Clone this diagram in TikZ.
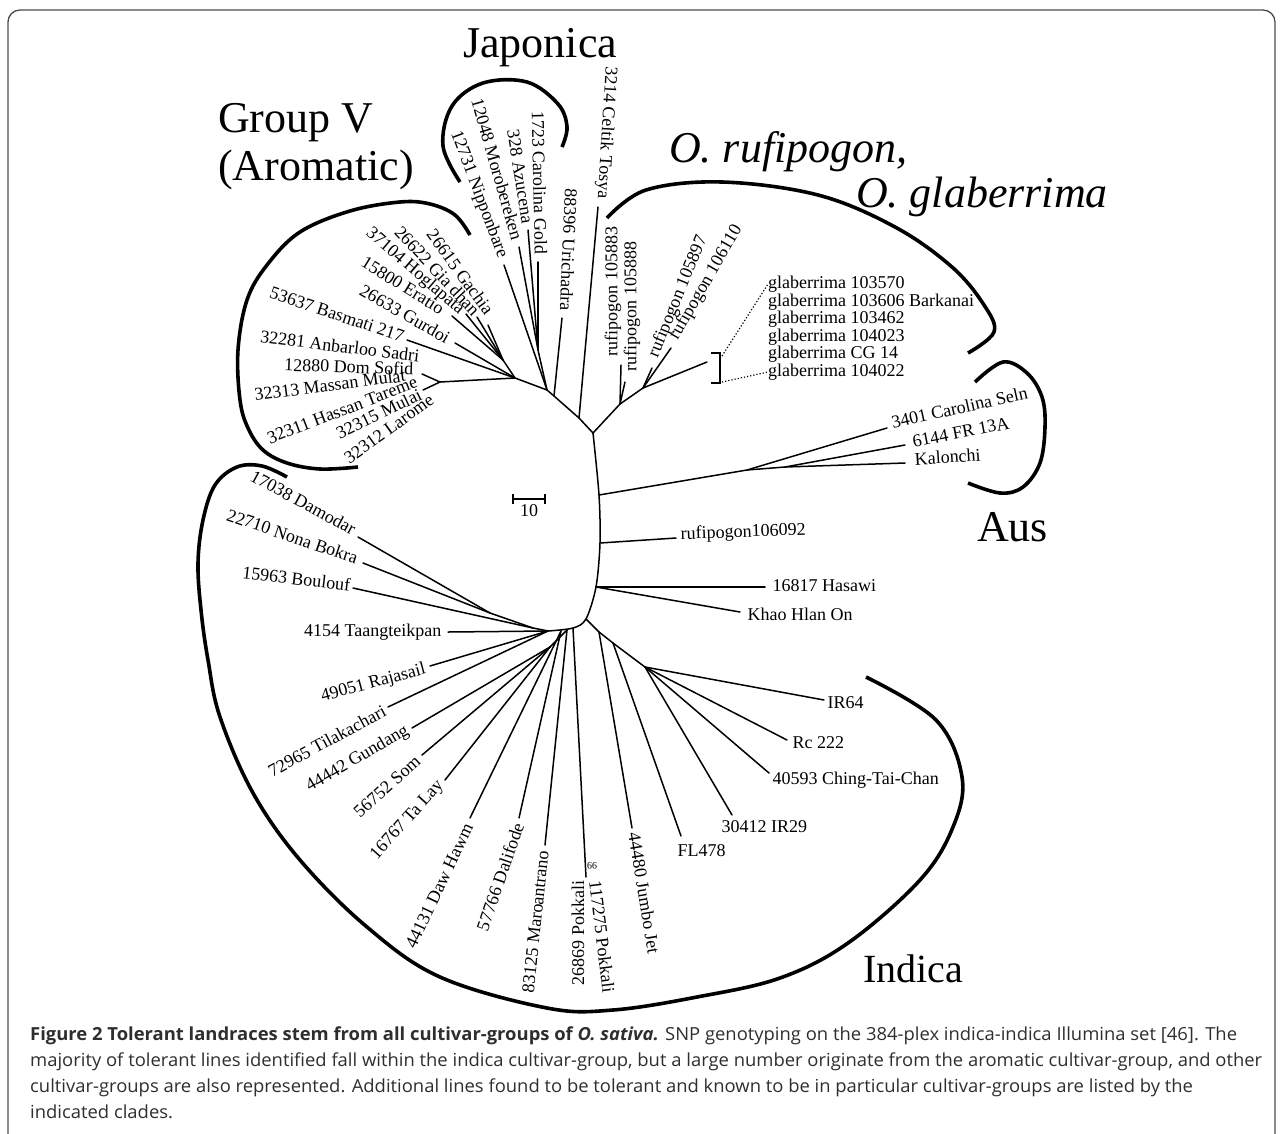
\documentclass[tikz,border=0pt]{standalone}
\usepackage{fontspec}
\setmainfont{Liberation Serif}
\newfontfamily\capfont{Open Sans}
\usepackage{graphicx}
\newlength\capw
\begin{document}
\settowidth\capw{\capfont\fontsize{18}{18}\selectfont majority of tolerant lines identified fall within the indica cultivar-group, but a large number originate from the aromatic cultivar-group, and other}%
\pgfmathsetmacro\capr{1232/\capw}%
\begin{tikzpicture}[x=1pt,y=-1pt,
  br/.style={line width=1.5pt, line cap=round, line join=round},
  brk/.style={line width=3.6pt, line cap=butt},
  lab/.style={font=\fontsize{18}{18}\selectfont, inner sep=1.5pt},
  glab/.style={font=\fontsize{18}{18}\selectfont, inner sep=0pt, anchor=west},
  big/.style={font=\fontsize{44}{44}\selectfont, inner sep=0pt, anchor=base west},
  capl/.style={anchor=base west, inner sep=0pt, text=black!82}]
\useasboundingbox (0,0) rectangle (1282,1133);
\draw[line width=1.3pt, black!70, rounded corners=12pt] (8,10) rectangle (1275,1150);
% ---------- internal coordinates ----------
\coordinate (J) at (593,433);
\coordinate (A1) at (599,495);
\coordinate (A2) at (600,543);
\coordinate (A3) at (596,587);
\coordinate (A4) at (586,619);
\coordinate (A5) at (573,628);
\coordinate (A5b) at (567,630);
\coordinate (A5c) at (561,631);
\coordinate (A6) at (548,631);
\coordinate (L2) at (550,647);
\coordinate (L3) at (490,613);
\coordinate (L4) at (533,628);
\coordinate (K1) at (747,470);
\coordinate (K2) at (785,467);
\coordinate (B1) at (599,632);
\coordinate (B2) at (613,643);
\coordinate (B3) at (645,667);
\coordinate (C1) at (579,418);
\coordinate (C2) at (554,396);
\coordinate (C3) at (547,390);
\coordinate (C4) at (515,378);
\coordinate (C5) at (440,382);
\coordinate (JS) at (538,350);
\coordinate (AR) at (503,360);
\coordinate (N2) at (620,404);
\coordinate (N3) at (643,388);
% ---------- leaf ends ----------
\coordinate (tCel) at (598,207);
\coordinate (tUri) at (562,318);
\coordinate (tNip) at (504,265);
\coordinate (tMor) at (519,247);
\coordinate (tAzu) at (528,230);
\coordinate (tCar) at (538,262);
\coordinate (tGac) at (488,325);
\coordinate (tGia) at (477,317);
\coordinate (tHog) at (466,314);
\coordinate (tEra) at (452,316);
\coordinate (tGur) at (455,343);
\coordinate (tBas) at (407,340);
\coordinate (tDom) at (422,374);
\coordinate (tMM) at (423,390);
\coordinate (tRA) at (621,365);
\coordinate (tRB) at (625,382);
\coordinate (tRC) at (652,368);
\coordinate (tRD) at (671,348);
\coordinate (tG1) at (707,362);
\coordinate (tT1) at (887,428);
\coordinate (tT2) at (905,445);
\coordinate (tT3) at (905,463);
\coordinate (tR6) at (676,538);
\coordinate (tH1) at (765,587);
\coordinate (tH2) at (740,612);
\coordinate (tJum) at (632,828);
\coordinate (tFL) at (681,836);
\coordinate (tIR29) at (732,815);
\coordinate (tChi) at (769,773);
\coordinate (tRc) at (787,740);
\coordinate (tIR64) at (824,700);
\coordinate (tPok) at (586,877);
\coordinate (tMar) at (545,845);
\coordinate (tDal) at (519,818);
\coordinate (tDaw) at (470,818);
\coordinate (tTaL) at (445,780);
\coordinate (tSom) at (422,755);
\coordinate (tGun) at (412,728);
\coordinate (tTil) at (388,707);
\coordinate (tRaj) at (430,666);
\coordinate (tTaa) at (448,632);
\coordinate (tBou) at (353,588);
\coordinate (tNon) at (363,563);
\coordinate (tDam) at (358,537);
% ---------- branches ----------
\draw[br] plot[smooth, tension=0.5] coordinates {(J) (A1) (A2) (A3) (A4) (A5) (A6)};
\draw[br] (J) -- (C1) -- (C2) -- (C3) -- (C4) -- (C5);
\draw[br] (J) -- (N2) -- (N3) -- (tG1);
\draw[br] (N2) -- (tRA); \draw[br] (N2) -- (tRB);
\draw[br] (N3) -- (tRC); \draw[br] (N3) -- (tRD);
\draw[br] (C1) -- (tCel);
\draw[br] (C2) -- (tUri);
\draw[br] (C3) -- (tNip);
\draw[br] (C3) -- (JS);
\draw[br] (JS) -- (tMor); \draw[br] (JS) -- (tAzu); \draw[br] (JS) -- (tCar);
\draw[br] (C4) -- (AR);
\draw[br] (AR) -- (tGac); \draw[br] (AR) -- (tGia); \draw[br] (AR) -- (tHog); \draw[br] (AR) -- (tEra);
\draw[br] (C4) -- (tGur); \draw[br] (C4) -- (tBas);
\draw[br] (C5) -- (tDom); \draw[br] (C5) -- (tMM);
\draw[br] (A1) -- (K1) -- (tT1);
\draw[br] (K1) -- (K2) -- (tT2); \draw[br] (K2) -- (tT3);
\draw[br] (A2) -- (tR6);
\draw[br] (A3) -- (tH1); \draw[br] (A3) -- (tH2);
\draw[br] (A4) -- (B1) -- (B2) -- (B3);
\draw[br] (B1) -- (tJum); \draw[br] (B2) -- (tFL);
\draw[br] (B3) -- (tIR29); \draw[br] (B3) -- (tChi); \draw[br] (B3) -- (tRc); \draw[br] (B3) -- (tIR64);
\draw[br] (A5) -- (tPok);
\draw[br] (A5b) -- (tMar);
\draw[br] (A5b) -- (L2);
\draw[br] (L2) -- (tTaL); \draw[br] (L2) -- (tSom); \draw[br] (L2) -- (tGun);
\draw[br] (A5c) -- (tDal); \draw[br] (A5c) -- (tDaw);
\draw[br] (A6) -- (tTil); \draw[br] (A6) -- (tRaj); \draw[br] (A6) -- (tTaa);
\draw[br] (A6) -- (L4) -- (L3);
\draw[br] (L4) -- (tBou);
\draw[br] (L3) -- (tNon); \draw[br] (L3) -- (tDam);
% ---------- glaberrima bracket ----------
\coordinate (gb1) at (711,353);
\coordinate (gb2) at (720,353);
\coordinate (gb3) at (720,383);
\coordinate (gb4) at (711,383);
\draw[line width=1.5pt] (gb1) -- (gb2) -- (gb3) -- (gb4);
% ---------- leaf labels ----------
\node[lab, rotate=-93.5, anchor=east] (nCel) at (602,200) {3214 Celtik Tosya};
\node[lab, rotate=-92.4, anchor=east] (nUri) at (566,312) {88396 Urichadra};
\node[lab, rotate=-69.3, anchor=east] (nNip) at (503,259) {12731 Nipponbare};
\node[lab, rotate=-73.9, anchor=east] (nMor) at (518,241) {12048 Morobereken};
\node[lab, rotate=-81, anchor=east] (nAzu) at (528,225) {328 Azucena};
\node[lab, rotate=-88.8, anchor=east] (nCar) at (541,256) {1723 Carolina Gold};
\node[lab, rotate=-54, anchor=east] (nGac) at (491,314) {26615 Gachia};
\node[lab, rotate=-46.7, anchor=east] (nGia) at (478,314) {26622 Gia dhan};
\node[lab, rotate=-40.8, anchor=east] (nHog) at (463,313) {37104 Hoglapata};
\node[lab, rotate=-31.8, anchor=east] (nEra) at (444,311) {15800 Eratio};
\node[lab, rotate=-30, anchor=east] (nGur) at (450,340) {26633 Gurdoi};
\node[lab, rotate=-18.4, anchor=east] (nBas) at (405,337) {53637 Basmati 217};
\node[lab, rotate=-7, anchor=east] (nAnb) at (421,356) {32281 Anbarloo Sadri};
\node[lab, rotate=-2, anchor=east] (nDom) at (415,369) {12880 Dom Sofid};
\node[lab, rotate=7.4, anchor=east] (nMas) at (407,375) {32313 Massan Mulat};
\node[lab, rotate=21, anchor=east] (nHas) at (418,381) {32311 Hassan Tareme};
\node[lab, rotate=25.7, anchor=east] (nMul) at (422,393) {32315 Mulai};
\node[lab, rotate=35.8, anchor=east] (nLar) at (433,397) {32312 Larome};
\node[lab, rotate=90, anchor=west] (nRA) at (613,358) {rufipogon 105883};
\node[lab, rotate=90, anchor=west] (nRB) at (632,373) {rufipogon 105888};
\node[lab, rotate=67.6, anchor=west] (nRC) at (653,358) {rufipogon 105897};
\node[lab, rotate=60, anchor=west] (nRD) at (673,340) {rufipogon 106110};
\node[glab] (gl1) at (768,284) {glaberrima 103570};
\node[glab] (gl2) at (768,302) {glaberrima 103606 Barkanai};
\node[glab] (gl3) at (768,319) {glaberrima 103462};
\node[glab] (gl4) at (768,337) {glaberrima 104023};
\node[glab] (gl5) at (768,354) {glaberrima CG 14};
\node[glab] (gl6) at (768,372) {glaberrima 104022};
\coordinate (gd1) at (722,356);
\coordinate (gd3) at (722,382);
\draw[line width=1.2pt, dotted] (gd1) -- (gl1.west);
\draw[line width=1.2pt, dotted] (gd3) -- (gl6.west);
\node[lab, rotate=12.6, anchor=west] (nT1) at (890,423) {3401 Carolina Seln};
\node[lab, rotate=11, anchor=west] (nT2) at (911,442) {6144 FR 13A};
\node[lab, rotate=3.5, anchor=west] (nT3) at (913,459) {Kalonchi};
\node[lab, rotate=2, anchor=west] (nR6) at (679,535) {rufipogon106092};
\node[lab, anchor=west] (nH1) at (771,586) {16817 Hasawi};
\node[lab, anchor=west] (nH2) at (746,614) {Khao Hlan On};
\node[lab, anchor=west] (nIR64) at (826,703) {IR64};
\node[lab, anchor=west] (nRc) at (791,743) {Rc 222};
\node[lab, anchor=west] (nChi) at (771,780) {40593 Ching-Tai-Chan};
\node[lab, anchor=west] (nIR29) at (720,827) {30412 IR29};
\node[lab, anchor=west] (nFL) at (676,851) {FL478};
\node[lab, rotate=-80.7, anchor=west] (nJum) at (634,831) {44480 Jumbo Jet};
\node[lab, rotate=-83, anchor=west] (nPk2) at (595,879) {117275 Pokkali};
\node[lab, rotate=90, anchor=east] (nPk1) at (578,879) {26869 Pokkali};
\node[font=\fontsize{10}{10}\selectfont, inner sep=0pt, rotate=180] (n99) at (592,866) {99};
\node[lab, rotate=84, anchor=east] (nMar) at (543,849) {83125 Maroantrano};
\node[lab, rotate=71, anchor=east] (nDal) at (519,822) {57766 Dalifode};
\node[lab, rotate=64.7, anchor=east] (nDaw) at (469,823) {44131 Daw Hawm};
\node[lab, rotate=48, anchor=east] (nTaL) at (442,782) {16767 Ta Lay};
\node[lab, rotate=41.8, anchor=east] (nSom) at (419,758) {56752 Som};
\node[lab, rotate=30.3, anchor=east] (nGun) at (409,729) {44442 Gundang};
\node[lab, rotate=28.4, anchor=east] (nTil) at (386,709) {72965 Tilakachari};
\node[lab, rotate=15, anchor=east] (nRaj) at (427,669) {49051 Rajasail};
\node[lab, anchor=east] (nTaa) at (443,632) {4154 Taangteikpan};
\node[lab, rotate=-6.7, anchor=east] (nBou) at (352,585) {15963 Boulouf};
\node[lab, rotate=-18.8, anchor=east] (nNon) at (359,559) {22710 Nona Bokra};
\node[lab, rotate=-28.5, anchor=east] (nDam) at (356,531) {17038 Damodar};
% ---------- scale bar ----------
\coordinate (sb1) at (513,499);
\coordinate (sb2) at (545,499);
\draw[line width=1.5pt] (sb1) -- (sb2);
\draw[line width=1.5pt] (sb1) ++(0,-5) -- ++(0,10);
\draw[line width=1.5pt] (sb2) ++(0,-5) -- ++(0,10);
\node[lab, anchor=north] (nScale) at (529,503) {10};
% ---------- clade brackets ----------
\draw[brk] plot[smooth, tension=0.6] coordinates {(460,182) (443,146) (452,106) (483,83) (527,82) (558,104) (567,127) (562,147)};
\draw[brk] plot[smooth, tension=0.6] coordinates {(470,235) (455,215) (430,204) (400,202) (350,211) (300,232) (267,265) (247,300) (238,350) (240,400) (248,428) (263,450) (287,463) (320,469) (358,467)};
\draw[brk] plot[smooth, tension=0.6] coordinates {(607,218) (646,190) (722,182) (818,195) (895,227) (952,267) (984,305) (994,332) (968,353)};
\draw[brk] plot[smooth, tension=0.6] coordinates {(975,382) (1003,362) (1027,373) (1042,397) (1045,427) (1040,463) (1023,487) (1000,493) (968,483)};
\draw[brk] plot[smooth, tension=0.6] coordinates {(287,477) (262,466) (237,467) (215,485) (203,520) (198,563) (201,610) (208,660) (220,717) (253,793) (300,860) (367,927) (440,977) (547,1008) (613,1010) (697,997) (780,978) (848,943) (920,880) (953,827) (962,777) (936,720) (866,677)};
% ---------- clade names ----------
\node[big] (cJap) at (463,57) {Japonica};
\node[big] (cGrp) at (218,132) {Group V};
\node[big] (cAro) at (218,180) {(Aromatic)};
\node[big, font=\fontsize{44}{44}\selectfont\itshape] (cRuf) at (669,162) {O. rufipogon,};
\node[big, font=\fontsize{44}{44}\selectfont\itshape] (cGla) at (856,207) {O. glaberrima};
\node[big] (cAus) at (977,541) {Aus};
\node[big, font=\fontsize{40}{40}\selectfont] (cInd) at (863,982) {Indica};
% ---------- caption ----------
\node[capl] (cap1) at (30,1040) {\scalebox{\capr}[1]{\capfont\fontsize{18}{18}\selectfont{\bfseries Figure 2 Tolerant landraces stem from all cultivar-groups of \itshape O. sativa.} SNP genotyping on the 384-plex indica-indica Illumina set [46]. The}};
\node[capl] (cap2) at (30,1066) {\scalebox{\capr}[1]{\capfont\fontsize{18}{18}\selectfont majority of tolerant lines identified fall within the indica cultivar-group, but a large number originate from the aromatic cultivar-group, and other}};
\node[capl] (cap3) at (30,1092) {\scalebox{\capr}[1]{\capfont\fontsize{18}{18}\selectfont cultivar-groups are also represented. Additional lines found to be tolerant and known to be in particular cultivar-groups are listed by the}};
\node[capl] (cap4) at (30,1118) {\scalebox{\capr}[1]{\capfont\fontsize{18}{18}\selectfont indicated clades.}};
\end{tikzpicture}
\end{document}
